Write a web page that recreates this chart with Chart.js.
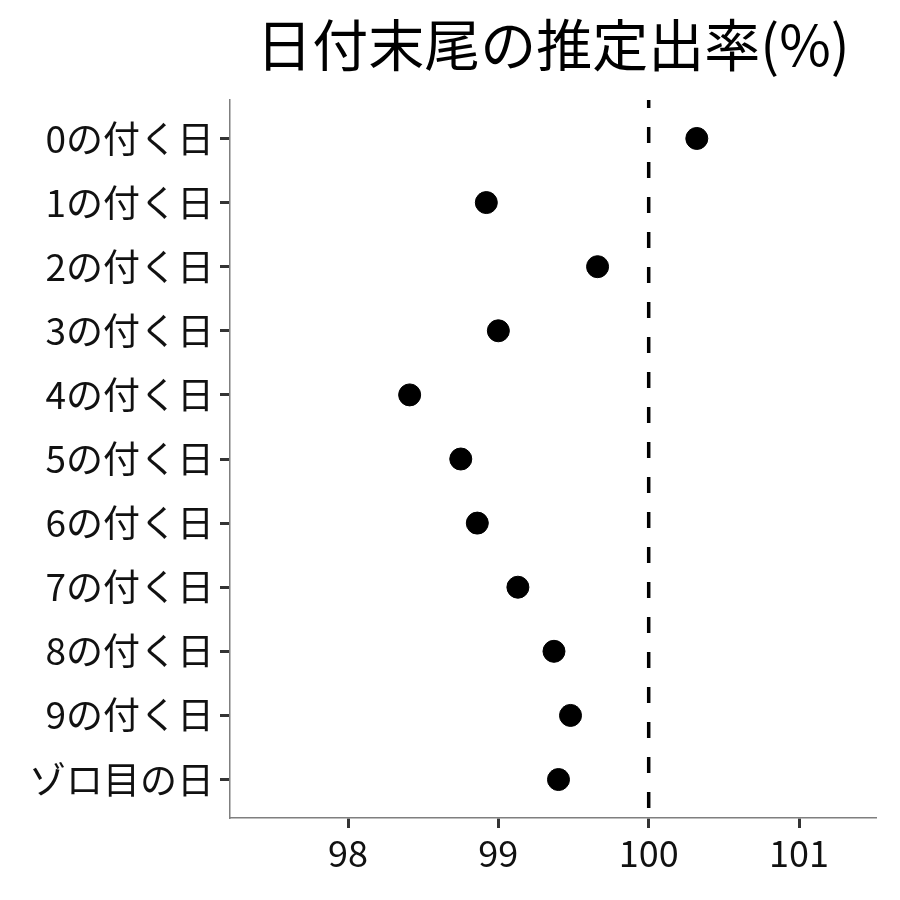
<!DOCTYPE html>
<html>
<head>
<meta charset="utf-8">
<script src="https://cdn.jsdelivr.net/npm/chart.js@4"></script>
<style>
  html, body { margin: 0; padding: 0; background: #ffffff; }
  #wrap { width: 900px; height: 900px; }
</style>
</head>
<body>
<div id="wrap"><canvas id="chart" width="900" height="900"></canvas></div>
<script>
const titleText = "日付末尾の推定出率(%)";

const categories = [
  "0の付く日", "1の付く日", "2の付く日", "3の付く日", "4の付く日",
  "5の付く日", "6の付く日", "7の付く日", "8の付く日", "9の付く日", "ゾロ目の日"
];

const rates = [100.32, 98.92, 99.66, 99.0, 98.41, 98.75, 98.86, 99.13, 99.37, 99.48, 99.40];

const xTicks = [98, 99, 100, 101];
const refValue = 100;

const FONT = "'Noto Sans CJK JP', 'Noto Sans', sans-serif";


const titlePlugin = {
  id: "panelTitle",
  afterDraw(chart) {
    const ctx = chart.ctx;
    const area = chart.chartArea;

    ctx.save();
    ctx.font = "56px " + FONT;
    ctx.fillStyle = "#000000";
    ctx.textAlign = "center";
    ctx.textBaseline = "middle";
    ctx.fillText(titleText, (area.left + area.right) / 2, 45);
    ctx.restore();
  }
};


const refLinePlugin = {
  id: "refLine",
  beforeDatasetsDraw(chart) {
    const ctx = chart.ctx;
    const area = chart.chartArea;
    const x = chart.scales.x.getPixelForValue(refValue);

    ctx.save();
    ctx.strokeStyle = "#000000";
    ctx.lineWidth = 3.5;
    ctx.setLineDash([16, 19]);
    ctx.lineDashOffset = 8;
    ctx.beginPath();
    ctx.moveTo(x, area.top);
    ctx.lineTo(x, area.bottom);
    ctx.stroke();
    ctx.restore();
  }
};


const points = rates.map((v, i) => ({ x: v, y: i }));

new Chart(document.getElementById("chart").getContext("2d"), {
  type: "scatter",
  data: {
    datasets: [{
      data: points,
      backgroundColor: "#000000",
      borderColor: "#000000",
      pointRadius: 11,
      pointHoverRadius: 11,
      clip: false
    }]
  },
  options: {
    responsive: false,
    animation: false,
    layout: {
      padding: { top: 100, right: 24, left: 0, bottom: 0 }
    },
    plugins: {
      legend: { display: false },
      tooltip: { enabled: false },
      title: { display: false }
    },
    scales: {
      x: {
        type: "linear",
        min: 97.215,
        max: 101.512,
        afterBuildTicks(scale) {
          scale.ticks = xTicks.map(v => ({ value: v }));
        },
        afterFit(scale) {
          scale.height = 82;
        },
        ticks: {
          color: "#111111",
          font: { family: FONT, size: 36 },
          padding: 4,
          maxRotation: 0
        },
        grid: {
          drawOnChartArea: false,
          tickLength: 10,
          tickWidth: 3,
          tickColor: "#333333"
        },
        border: {
          color: "#7f7f7f",
          width: 1.5
        }
      },
      y: {
        type: "linear",
        min: -0.6,
        max: 10.6,
        reverse: true,
        afterBuildTicks(scale) {
          scale.ticks = categories.map((_, i) => ({ value: i }));
        },
        afterFit(scale) {
          scale.width = 230;
        },
        ticks: {
          color: "#111111",
          font: { family: FONT, size: 37 },
          padding: 6,
          callback: (v) => categories[v]
        },
        grid: {
          drawOnChartArea: false,
          tickLength: 10,
          tickWidth: 3,
          tickColor: "#333333"
        },
        border: {
          color: "#7f7f7f",
          width: 1.5
        }
      }
    }
  },
  plugins: [refLinePlugin, titlePlugin]
});
</script>
</body>
</html>
